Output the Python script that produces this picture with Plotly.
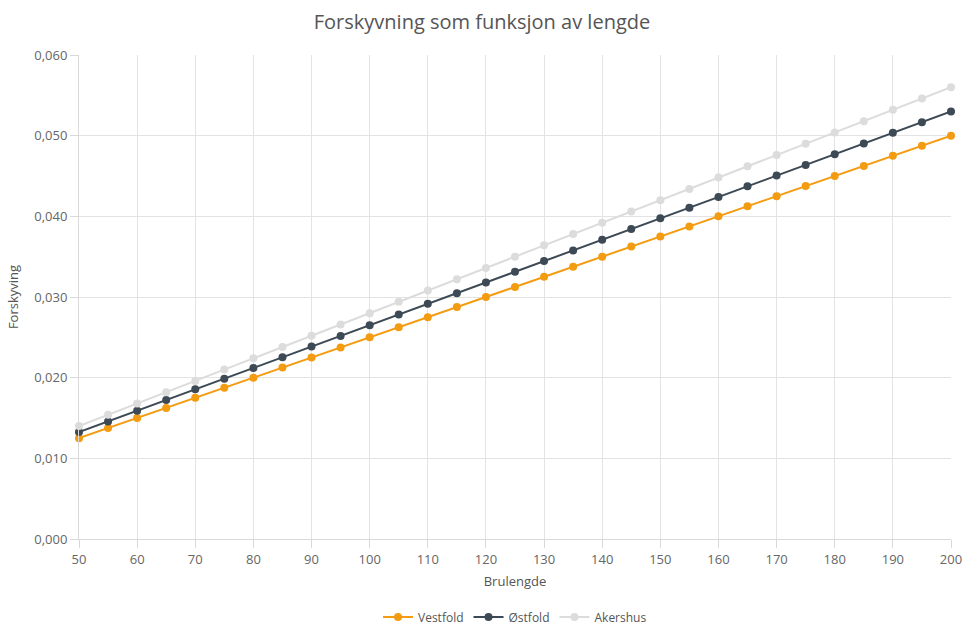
import plotly.graph_objects as go

brulengde = [50, 55, 60, 65, 70, 75, 80, 85, 90, 95, 100, 105, 110, 115, 120, 125,
             130, 135, 140, 145, 150, 155, 160, 165, 170, 175, 180, 185, 190, 195, 200]

vestfold = [0.0125, 0.01375, 0.015, 0.01625, 0.0175, 0.01875, 0.02, 0.02125, 0.0225,
            0.02375, 0.025, 0.02625, 0.0275, 0.02875, 0.03, 0.03125, 0.0325, 0.03375,
            0.035, 0.03625, 0.0375, 0.03875, 0.04, 0.04125, 0.0425, 0.04375, 0.045,
            0.04625, 0.0475, 0.04875, 0.05]

ostfold = [0.01325, 0.014575, 0.0159, 0.017225, 0.01855, 0.019875, 0.0212, 0.022525,
           0.02385, 0.025175, 0.0265, 0.027825, 0.02915, 0.030475, 0.0318, 0.033125,
           0.03445, 0.035775, 0.0371, 0.038425, 0.03975, 0.041075, 0.0424, 0.043725,
           0.04505, 0.046375, 0.0477, 0.049025, 0.05035, 0.051675, 0.053]

akershus = [0.014, 0.0154, 0.0168, 0.0182, 0.0196, 0.021, 0.0224, 0.0238, 0.0252,
            0.0266, 0.028, 0.0294, 0.0308, 0.0322, 0.0336, 0.035, 0.0364, 0.0378,
            0.0392, 0.0406, 0.042, 0.0434, 0.0448, 0.0462, 0.0476, 0.049, 0.0504,
            0.0518, 0.0532, 0.0546, 0.056]

series = [("Vestfold", vestfold, "#F39C12"),
          ("Østfold", ostfold, "#3D4A55"),
          ("Akershus", akershus, "#DCDCDC")]

fig = go.Figure()
for name, vals, col in series:
    fig.add_trace(go.Scatter(x=brulengde, y=vals, name=name, mode="lines+markers",
                             line=dict(color=col, width=2),
                             marker=dict(color=col, size=8), cliponaxis=False))

fnt = "Open Sans, DejaVu Sans, sans-serif"
fig.update_layout(
    width=964, height=628,
    paper_bgcolor="white", plot_bgcolor="white",
    separators=", ",
    font=dict(family=fnt, size=13, color="#666666"),
    title=dict(text="Forskyvning som funksjon av lengde", x=0.5, xanchor="center",
               y=1 - 22 / 628, yanchor="middle", font=dict(size=20, color="#555555")),
    margin=dict(l=79, r=13, t=55, b=89, autoexpand=False),
    showlegend=True,
    legend=dict(orientation="h", x=0.5, xanchor="center", yref="container",
                y=1 - 617 / 628, yanchor="middle",
                font=dict(size=12, color="#555555")),
    xaxis=dict(range=[50, 200], dtick=10, tick0=50, showgrid=True, gridcolor="#e3e3e3",
               showline=True, linecolor="#d9d9d9", linewidth=1, ticks="outside",
               ticklen=8, tickcolor="#d9d9d9", zeroline=False, automargin=False,
               title=dict(text="Brulengde", standoff=10, font=dict(size=13, color="#555555"))),
    yaxis=dict(range=[0, 0.06], dtick=0.01, tickformat=".3f", showgrid=True,
               gridcolor="#e3e3e3", showline=True, linecolor="#d9d9d9", linewidth=1,
               ticks="outside", ticklen=8, tickcolor="#d9d9d9", zeroline=False,
               automargin=False,
               title=dict(text="Forskyving", standoff=12, font=dict(size=13, color="#555555"))),
)

fig.write_html(
    "out.html",
    config={"displayModeBar": False},
    post_script="document.body.style.margin='0';document.body.style.overflow='hidden';",
)
